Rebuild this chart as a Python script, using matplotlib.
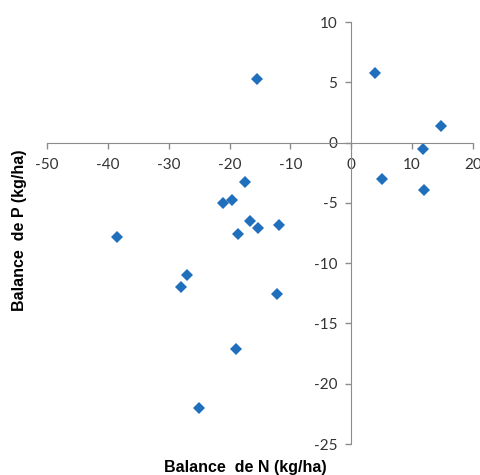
import matplotlib.pyplot as plt
import numpy as np

plt.rcParams['axes.unicode_minus'] = False

# nitrogen / phosphorus balance per site (kg/ha)
balance_n = [-15.5, 3.9, 14.7, 11.8, 5.0, 11.9, -17.5, -21.0, -19.6, -16.7,
             -15.3, -18.6, -11.8, -38.5, -27.0, -27.9, -12.2, -19.0, -25.1]
balance_p = [5.3, 5.8, 1.4, -0.5, -3.0, -3.9, -3.3, -5.0, -4.8, -6.5,
             -7.1, -7.6, -6.8, -7.8, -11.0, -12.0, -12.6, -17.1, -22.0]

x_ticks = [-50, -40, -30, -20, -10, 0, 10, 20]
y_ticks = [-25, -20, -15, -10, -5, 0, 5, 10]

fig = plt.figure(figsize=(4.81, 4.75), dpi=100)
ax = fig.add_axes([47/481, 31/475, 426/481, 422/475])

ax.plot(balance_n, balance_p, linestyle='none', marker='D', markersize=6,
        color='#1f6fbd', markeredgewidth=0)

ax.set_xlim(-50, 20)
ax.set_ylim(-25, 10)
ax.set_xticks(x_ticks)
ax.set_yticks(y_ticks)

# axes cross at the origin, Excel style
grey = '#8c8c8c'
for side in ['top', 'right']:
    ax.spines[side].set_visible(False)
ax.spines['left'].set_position(('data', 0))
ax.spines['bottom'].set_position(('data', 0))
ax.spines['left'].set_color(grey)
ax.spines['bottom'].set_color(grey)

ax.tick_params(axis='both', direction='out', length=4, color=grey, width=1,
               labelcolor='#333333', labelsize=11)
ax.tick_params(axis='x', pad=7)
ax.tick_params(axis='y', pad=6)
for lab in ax.get_xticklabels() + ax.get_yticklabels():
    lab.set_fontfamily('Lato')

ax.set_xlabel('Balance  de N (kg/ha)', fontsize=11.5, fontweight='bold',
              family='Liberation Sans')
ax.set_ylabel('Balance  de P (kg/ha)', fontsize=11.5, fontweight='bold',
              family='Liberation Sans')
ax.xaxis.set_label_coords(0.465, -0.038)
ax.yaxis.set_label_coords(-0.047, 0.507)

fig.savefig('out.png', dpi=100)
